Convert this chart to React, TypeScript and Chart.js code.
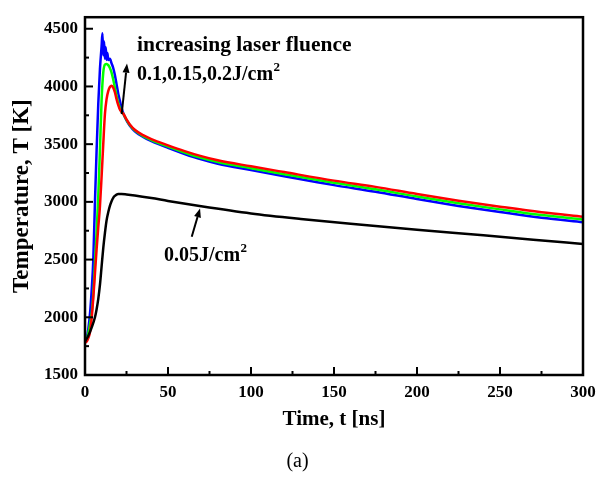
import React, { useEffect, useRef } from 'react';
import { Chart, registerables } from 'chart.js';

Chart.register(...registerables);

const FONT = "'Liberation Serif', 'Times New Roman', serif";

const xTicks = [0, 50, 100, 150, 200, 250, 300];
const xMinorTicks = [25, 75, 125, 175, 225, 275];
const yTicks = [1500, 2000, 2500, 3000, 3500, 4000, 4500];
const yMinorTicks = [1750, 2250, 2750, 3250, 3750, 4250];

const blackTime = [0, 2, 4, 6, 7, 8, 9, 10, 11, 12, 13, 14, 15, 16, 17, 18, 19, 20, 22, 25, 30, 40, 50, 70, 100, 130, 160, 200, 240, 270, 300];
const blackTemp = [1790, 1840, 1910, 2000, 2070, 2160, 2280, 2440, 2600, 2730, 2840, 2910, 2965, 3005, 3035, 3052, 3063, 3068, 3068, 3064, 3055, 3033, 3008, 2962, 2900, 2852, 2810, 2758, 2710, 2672, 2636];

const redTime = [0, 1, 2, 3, 4, 5, 6, 7, 8, 9, 10, 11, 12, 13, 14, 15, 16, 17, 18, 19, 20, 21, 22, 23, 25, 27, 30, 35, 40, 50, 60, 70, 80, 100, 120, 150, 175, 200, 225, 250, 275, 300];
const redTemp = [1780, 1790, 1820, 1870, 1990, 2170, 2380, 2590, 2780, 2960, 3220, 3500, 3760, 3890, 3960, 3995, 4005, 3990, 3950, 3890, 3840, 3800, 3778, 3765, 3714, 3671, 3625, 3578, 3544, 3490, 3440, 3396, 3360, 3308, 3258, 3184, 3130, 3068, 3010, 2958, 2910, 2872];

const greenTime = [0, 1, 2, 3, 4, 5, 6, 7, 8, 9, 10, 11, 12, 13, 14, 15, 16, 17, 18, 19, 20, 21, 22, 23, 25, 27, 30, 35, 40, 50, 60, 70, 80, 100, 120, 150, 175, 200, 225, 250, 275, 300];
const greenTemp = [1790, 1810, 1860, 1940, 2030, 2200, 2470, 2740, 3050, 3450, 3880, 4120, 4190, 4195, 4185, 4160, 4120, 4060, 3990, 3920, 3860, 3812, 3782, 3765, 3710, 3666, 3619, 3570, 3535, 3479, 3428, 3382, 3345, 3292, 3240, 3165, 3109, 3046, 2988, 2935, 2886, 2848];

const blueTime = [0, 1, 2, 3, 4, 5, 6, 7, 8, 9, 10, 10.5, 11, 11.5, 12, 12.5, 13, 13.5, 14, 15, 16, 17, 18, 19, 20, 21, 22, 23, 25, 27, 30, 35, 40, 50, 60, 70, 80, 100, 120, 150, 175, 200, 225, 250, 275, 300];
const blueTemp = [1790, 1820, 1900, 2030, 2230, 2500, 3000, 3450, 3850, 4150, 4350, 4460, 4270, 4390, 4240, 4340, 4230, 4290, 4230, 4240, 4200, 4160, 4100, 4020, 3940, 3877, 3815, 3770, 3705, 3660, 3612, 3562, 3526, 3468, 3415, 3368, 3330, 3275, 3222, 3145, 3088, 3024, 2965, 2912, 2862, 2824];

const upperLabel1 = 'increasing laser fluence';
const upperLabel2 = '0.1,0.15,0.2J/cm';
const lowerLabel = '0.05J/cm';
const caption = '(a)';

// annotation anchors in data units [t, T]
const upperTextAnchor = [31.3, 4310];
const upperText2Anchor = [31.3, 4057];
const upperArrow = [[22.1, 3760], [25.3, 4198]];
const lowerTextAnchor = [47.6, 2490];
const lowerArrow = [[64.3, 2698], [69.3, 2943]];

const toPts = (t: number[], v: number[]) => t.map((x, i) => ({ x, y: v[i] }));

const overlayPlugin = {
  id: 'overlay',
  afterDraw(chart: any) {
    const { ctx, chartArea: a, scales } = chart;
    const xs = scales.x;
    const ys = scales.y;
    ctx.save();
    ctx.strokeStyle = '#000';
    ctx.fillStyle = '#000';
    ctx.lineWidth = 2.5;
    ctx.strokeRect(a.left, a.top, a.right - a.left, a.bottom - a.top);
    ctx.lineWidth = 2;
    const seg = (x1: number, y1: number, x2: number, y2: number) => {
      ctx.beginPath();
      ctx.moveTo(x1, y1);
      ctx.lineTo(x2, y2);
      ctx.stroke();
    };
    xTicks.forEach((v) => { const p = xs.getPixelForValue(v); seg(p, a.bottom, p, a.bottom - 8); });
    xMinorTicks.forEach((v) => { const p = xs.getPixelForValue(v); seg(p, a.bottom, p, a.bottom - 4); });
    yTicks.forEach((v) => { const p = ys.getPixelForValue(v); seg(a.left, p, a.left + 8, p); });
    yMinorTicks.forEach((v) => { const p = ys.getPixelForValue(v); seg(a.left, p, a.left + 4, p); });

    const arrow = (from: number[], to: number[]) => {
      const x1 = xs.getPixelForValue(from[0]);
      const y1 = ys.getPixelForValue(from[1]);
      const x2 = xs.getPixelForValue(to[0]);
      const y2 = ys.getPixelForValue(to[1]);
      const ang = Math.atan2(y2 - y1, x2 - x1);
      const hl = 9, hw = 3.5;
      const bx = x2 - hl * Math.cos(ang);
      const by = y2 - hl * Math.sin(ang);
      ctx.lineWidth = 2;
      seg(x1, y1, bx, by);
      ctx.beginPath();
      ctx.moveTo(x2, y2);
      ctx.lineTo(bx + hw * Math.sin(ang), by - hw * Math.cos(ang));
      ctx.lineTo(bx - hw * Math.sin(ang), by + hw * Math.cos(ang));
      ctx.closePath();
      ctx.fill();
    };
    arrow(upperArrow[0], upperArrow[1]);
    arrow(lowerArrow[0], lowerArrow[1]);

    const supText = (text: string, anchor: number[], sup: string | null, size: number) => {
      const px = xs.getPixelForValue(anchor[0]);
      const py = ys.getPixelForValue(anchor[1]);
      ctx.font = `bold ${size}px ${FONT}`;
      ctx.textAlign = 'left';
      ctx.textBaseline = 'alphabetic';
      ctx.fillText(text, px, py);
      if (sup) {
        const w = ctx.measureText(text).width;
        ctx.font = `bold 13px ${FONT}`;
        ctx.fillText(sup, px + w + 0.5, py - 9);
      }
    };
    supText(upperLabel1, upperTextAnchor, null, 21.5);
    supText(upperLabel2, upperText2Anchor, '2', 20);
    supText(lowerLabel, lowerTextAnchor, '2', 20);

    ctx.font = `20px ${FONT}`;
    ctx.textAlign = 'center';
    ctx.textBaseline = 'middle';
    ctx.fillText(caption, chart.width / 2 - 6, chart.height - 17);
    ctx.restore();
  },
};

export default function App() {
  const ref = useRef<HTMLCanvasElement | null>(null);
  useEffect(() => {
    if (!ref.current) return;
    const tickFont = { family: FONT, size: 17, weight: 'bold' as const };
    const plain = (v: any) => String(v);
    const chart = new Chart(ref.current, {
      type: 'line',
      data: {
        datasets: [
          { data: toPts(blackTime, blackTemp), borderColor: '#000000', borderWidth: 2.5 },
          { data: toPts(redTime, redTemp), borderColor: '#ff0000', borderWidth: 2.5 },
          { data: toPts(greenTime, greenTemp), borderColor: '#00ff00', borderWidth: 2.5 },
          { data: toPts(blueTime, blueTemp), borderColor: '#0000ff', borderWidth: 2.5 },
        ],
      },
      options: {
        responsive: false,
        animation: false,
        devicePixelRatio: 1,
        layout: { padding: { left: 0, top: 9, right: 24, bottom: 0 } },
        elements: {
          point: { radius: 0 },
          line: { cubicInterpolationMode: 'monotone', fill: false },
        },
        plugins: { legend: { display: false }, tooltip: { enabled: false } },
        scales: {
          x: {
            type: 'linear',
            min: 0,
            max: 300,
            afterBuildTicks: (s: any) => { s.ticks = xTicks.map((v) => ({ value: v })); },
            afterFit: (s: any) => { s.height = 104; },
            grid: { display: false, drawTicks: false },
            border: { display: false },
            ticks: { padding: 7, color: '#000', font: tickFont, maxRotation: 0, callback: plain },
            title: { display: true, text: 'Time, t [ns]', color: '#000', font: { family: FONT, size: 21, weight: 'bold' }, padding: { top: 0, bottom: 47 } },
          },
          y: {
            type: 'linear',
            min: 1500,
            max: 4600,
            afterBuildTicks: (s: any) => { s.ticks = yTicks.map((v) => ({ value: v })); },
            afterFit: (s: any) => { s.width = 85; },
            grid: { display: false, drawTicks: false },
            border: { display: false },
            ticks: { padding: 7, color: '#000', font: tickFont, callback: plain },
            title: { display: true, text: 'Temperature, T [K]', color: '#000', font: { family: FONT, size: 23, weight: 'bold' }, padding: { top: 8, bottom: 0 } },
          },
        },
      },
      plugins: [overlayPlugin],
    } as any);
    return () => chart.destroy();
  }, []);
  return (
    <div style={{ position: 'fixed', left: 0, top: 0, width: 607, height: 479, background: '#fff' }}>
      <canvas ref={ref} width={607} height={479} />
    </div>
  );
}
